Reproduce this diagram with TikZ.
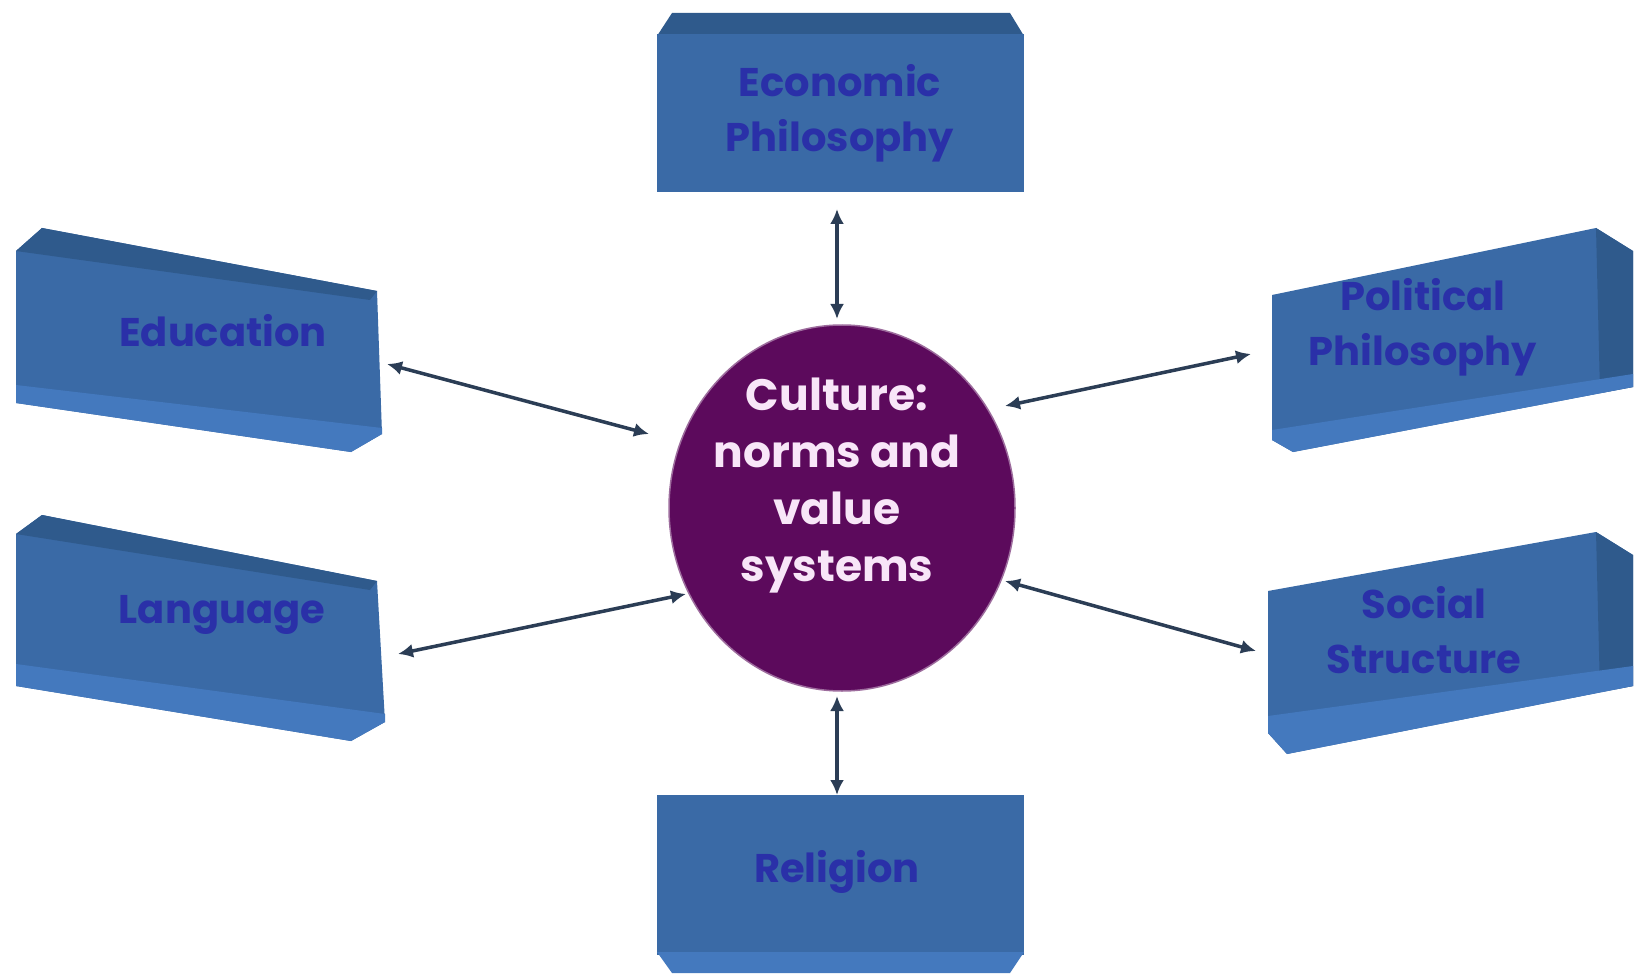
\documentclass[tikz,border=0pt]{standalone}
\usepackage{fontspec}
\setmainfont{Poppins}
\usetikzlibrary{arrows.meta,shapes.geometric}
\definecolor{boxblue}{HTML}{3A6AA6}
\definecolor{boxdark}{HTML}{2F5A8C}
\definecolor{boxlight}{HTML}{4479BE}
\definecolor{txtblue}{HTML}{2A30A8}
\definecolor{cultpurple}{HTML}{5C0A5C}
\definecolor{culttxt}{HTML}{F8E6F8}
\definecolor{arrowc}{HTML}{2B3D55}
\tikzset{
  boxtext/.style={text=txtblue, font=\fontsize{40}{55}\selectfont\bfseries, align=center, inner sep=0pt},
  culttext/.style={text=culttxt, font=\fontsize{44}{57}\selectfont\bfseries, align=center, inner sep=0pt},
  boxface/.style={fill=boxblue},
  boxtop/.style={fill=boxdark},
  boxbottom/.style={fill=boxlight},
  link/.style={draw=arrowc, line width=3.5pt, {Latex[length=15pt,width=14pt]}-{Latex[length=15pt,width=14pt]}},
}
\begin{document}
\begin{tikzpicture}[x=1pt,y=-1pt]
\useasboundingbox[fill=white] (0,0) rectangle (1641,976);

% Economic Philosophy box
\fill[boxtop] (657,36) -- (672,13) -- (1010,13) -- (1024,36) -- cycle;
\fill[boxface] (657,34) rectangle (1024,192);
\node[boxtext] (econ) at (840,113) {Economic\\Philosophy};

% Religion box
\fill[boxface] (657,795) rectangle (1024,955);
\fill[boxbottom] (657,952) -- (1024,952) -- (1010,973) -- (672,973) -- cycle;
\node[boxtext] (relig) at (837,872) {Religion};

% Education box
\fill[boxface] (42,228) -- (377,291) -- (382,434) -- (351,452) -- (16,403) -- (16,251) -- cycle;
\fill[boxtop] (42,228) -- (377,291) -- (370,300) -- (16,251) -- cycle;
\fill[boxbottom] (16,385) -- (382,428) -- (382,434) -- (351,452) -- (16,403) -- cycle;
\node[boxtext] (edu) at (223,331) {Education};

% Language box
\fill[boxface] (42,515) -- (377,581) -- (385,722) -- (351,741) -- (16,686) -- (16,534) -- cycle;
\fill[boxtop] (42,515) -- (377,581) -- (370,590) -- (16,534) -- cycle;
\fill[boxbottom] (16,664) -- (385,714) -- (385,722) -- (351,741) -- (16,686) -- cycle;
\node[boxtext] (lang) at (222,615) {Language};

% Political Philosophy box
\fill[boxface] (1272,295) -- (1596,228) -- (1633,251) -- (1633,387) -- (1293,452) -- (1272,440) -- cycle;
\fill[boxdark] (1596,228) -- (1633,251) -- (1633,387) -- (1600,393) -- cycle;
\fill[boxbottom] (1272,430) -- (1633,374) -- (1633,387) -- (1293,452) -- (1272,440) -- cycle;
\node[boxtext] (polit) at (1423,327) {Political\\Philosophy};

% Social Structure box
\fill[boxface] (1268,591) -- (1596,532) -- (1633,555) -- (1633,686) -- (1287,754) -- (1268,733) -- cycle;
\fill[boxdark] (1596,532) -- (1633,555) -- (1633,686) -- (1600,692) -- cycle;
\fill[boxbottom] (1268,716) -- (1633,666) -- (1633,686) -- (1287,754) -- (1268,733) -- cycle;
\node[boxtext] (social) at (1424,630) {Social\\Structure};

% Culture ellipse
\node[ellipse, fill=cultpurple, draw=cultpurple!60!white, line width=1.5pt,
      minimum width=346pt, minimum height=366pt, inner sep=0pt] (cult) at (842,508) {};
\node[culttext] (culttxt) at (837,486) {Culture:\\norms and\\value\\systems};

% arrow end points
\coordinate (econE) at (837,209);
\coordinate (econC) at (837,319);
\coordinate (religC) at (837,696);
\coordinate (religE) at (837,795);
\coordinate (eduE) at (387,364);
\coordinate (eduC) at (649,434);
\coordinate (langE) at (398,654);
\coordinate (langC) at (686,594);
\coordinate (politC) at (1005,406);
\coordinate (politE) at (1251,354);
\coordinate (socC) at (1005,581);
\coordinate (socE) at (1256,651);

\draw[link] (econE) -- (econC);
\draw[link] (religC) -- (religE);
\draw[link] (eduE) -- (eduC);
\draw[link] (langE) -- (langC);
\draw[link] (politC) -- (politE);
\draw[link] (socC) -- (socE);
\end{tikzpicture}
\end{document}
